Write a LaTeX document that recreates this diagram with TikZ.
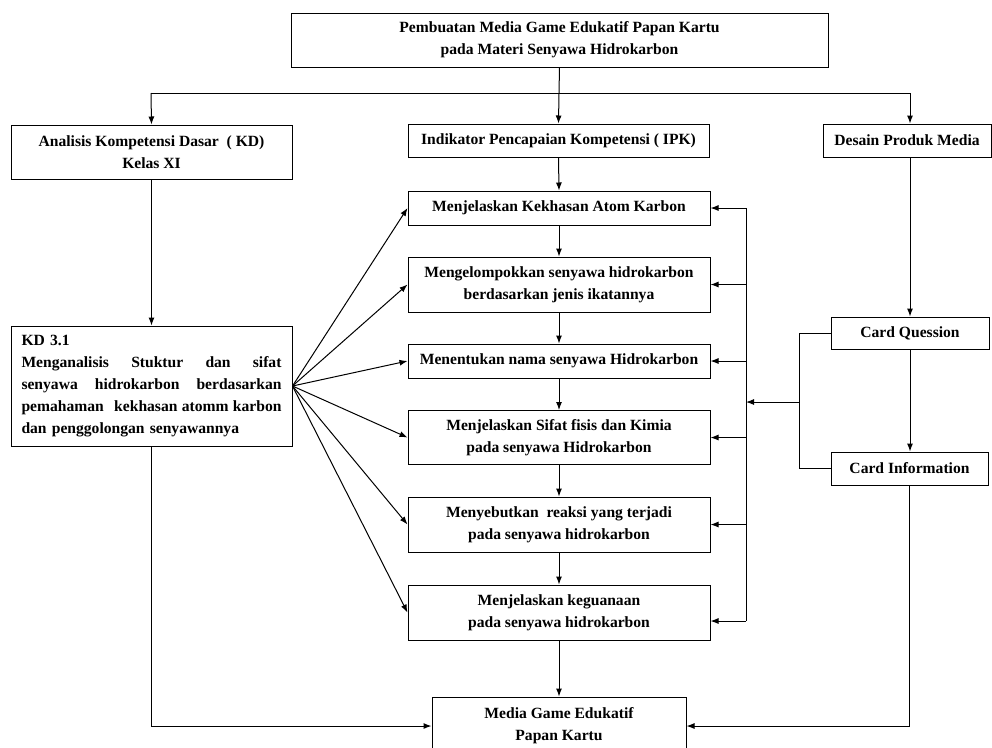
\documentclass[tikz,border=0pt]{standalone}
\usepackage{fontspec}
\setmainfont{Liberation Serif}
\usetikzlibrary{arrows.meta}

\tikzset{
  kotak/.style={draw, line width=0.75pt, rectangle, align=center, inner sep=2pt,
    font=\fontsize{11.7}{16.5}\selectfont\bfseries},
  panah/.style={-{Latex[length=6pt,width=4.5pt]}, line width=0.75pt},
}

\begin{document}
\begin{tikzpicture}[x=0.75pt,y=-0.75pt]
  \useasboundingbox (0,0) rectangle (992,747);
  \clip (0,0) rectangle (992,747);
  % baris atas
  \node[kotak, minimum width=402.75pt, minimum height=40.5pt] (judul) at (559.5,40)
    {Pembuatan Media Game Edukatif Papan Kartu\\pada Materi Senyawa Hidrokarbon};
  \node[kotak, minimum width=210.75pt, minimum height=40.5pt] (analisis) at (151.5,152)
    {Analisis Kompetensi Dasar~ ( KD)\\Kelas XI};
  \node[kotak, minimum width=225.75pt, minimum height=24.75pt] (ipk) at (558.5,140.5)
    {Indikator Pencapaian Kompetensi ( IPK)};
  \node[kotak, minimum width=126pt, minimum height=24.75pt] (desain) at (907,140.5)
    {Desain Produk Media};
  % indikator
  \node[kotak, minimum width=226.5pt, minimum height=25.5pt] (b1) at (559,208)
    {Menjelaskan Kekhasan Atom Karbon};
  \node[kotak, minimum width=226.5pt, minimum height=41.25pt] (b2) at (559,284.5)
    {Mengelompokkan senyawa hidrokarbon\\berdasarkan jenis ikatannya};
  \node[kotak, minimum width=226.5pt, minimum height=25.5pt] (b3) at (559,361)
    {Menentukan nama senyawa Hidrokarbon};
  \node[kotak, minimum width=226.5pt, minimum height=40.5pt] (b4) at (559,437.5)
    {Menjelaskan Sifat fisis dan Kimia\\pada senyawa Hidrokarbon};
  \node[kotak, minimum width=226.5pt, minimum height=41.25pt] (b5) at (559,524.5)
    {Menyebutkan~ reaksi yang terjadi\\pada senyawa hidrokarbon};
  \node[kotak, minimum width=226.5pt, minimum height=41.25pt] (b6) at (559,612.5)
    {Menjelaskan keguanaan\\pada senyawa hidrokarbon};
  \node[kotak, minimum width=190.5pt, minimum height=43.5pt] (media) at (559,726)
    {Media Game Edukatif\\Papan Kartu};
  % KD dan kartu
  \node[kotak, align=left, text width=195pt, inner xsep=7.875pt, minimum height=90pt] (kd) at (151.5,386)
    {KD 3.1\\
     \makebox[195pt][l]{Menganalisis\hfill Stuktur\hfill dan\hfill sifat}\\
     \makebox[195pt][l]{senyawa\hfill hidrokarbon\hfill berdasarkan}\\
     \makebox[195pt][l]{pemahaman~ kekhasan\hfill atomm\hfill karbon}\\
     dan penggolongan senyawannya};
  \node[kotak, minimum width=118.5pt, minimum height=24pt] (cq) at (910,333)
    {Card Quession};
  \node[kotak, minimum width=117.75pt, minimum height=24.75pt] (ci) at (909.5,468.5)
    {Card Information};

  % percabangan atas
  \coordinate (cab) at (559,93);
  \coordinate (kiri) at (151,93);
  \coordinate (kanan) at (910,93);
  \draw[line width=0.75pt] (judul.south) -- (cab);
  \draw[line width=0.75pt] (kiri) -- (kanan);
  \draw[panah] (kiri) -- (analisis.north);
  \draw[panah] (cab) -- (ipk.north);
  \draw[panah] (kanan) -- (kanan |- desain.north);
  \draw[panah] (analisis.south) -- (kd.north);
  \draw[panah] (kanan |- desain.south) -- (kanan |- cq.north);
  \draw[panah] (cq.south) -- (cq.south |- ci.north);

  % alur indikator
  \foreach \a/\b in {ipk/b1,b1/b2,b2/b3,b3/b4,b4/b5,b5/b6,b6/media}
    \draw[panah] (\a.south) -- (\b.north);
  \foreach \t in {b1,b2,b3,b4,b5,b6}
    \draw[panah] (kd.east) -- (\t.west);

  % jalur kartu ke indikator
  \coordinate (busA) at (746,208);
  \coordinate (busB) at (746,621);
  \coordinate (krg) at (799,402);
  \draw[line width=0.75pt] (busA) -- (busB);
  \draw[panah] (busA) -- (b1.east);
  \foreach \t in {b2,b3,b4,b5}
    \draw[panah] (busA |- \t.east) -- (\t.east);
  \draw[panah] (busB) -- (busB -| b6.east);
  \draw[line width=0.75pt] (cq.west) -- (cq.west -| krg) -- (ci.west -| krg) -- (ci.west);
  \draw[panah] (krg) -- (krg -| busA);

  % ke media
  \draw[panah] (kd.south) |- (media.west);
  \draw[panah] (ci.south) |- (media.east);
\end{tikzpicture}
\end{document}
